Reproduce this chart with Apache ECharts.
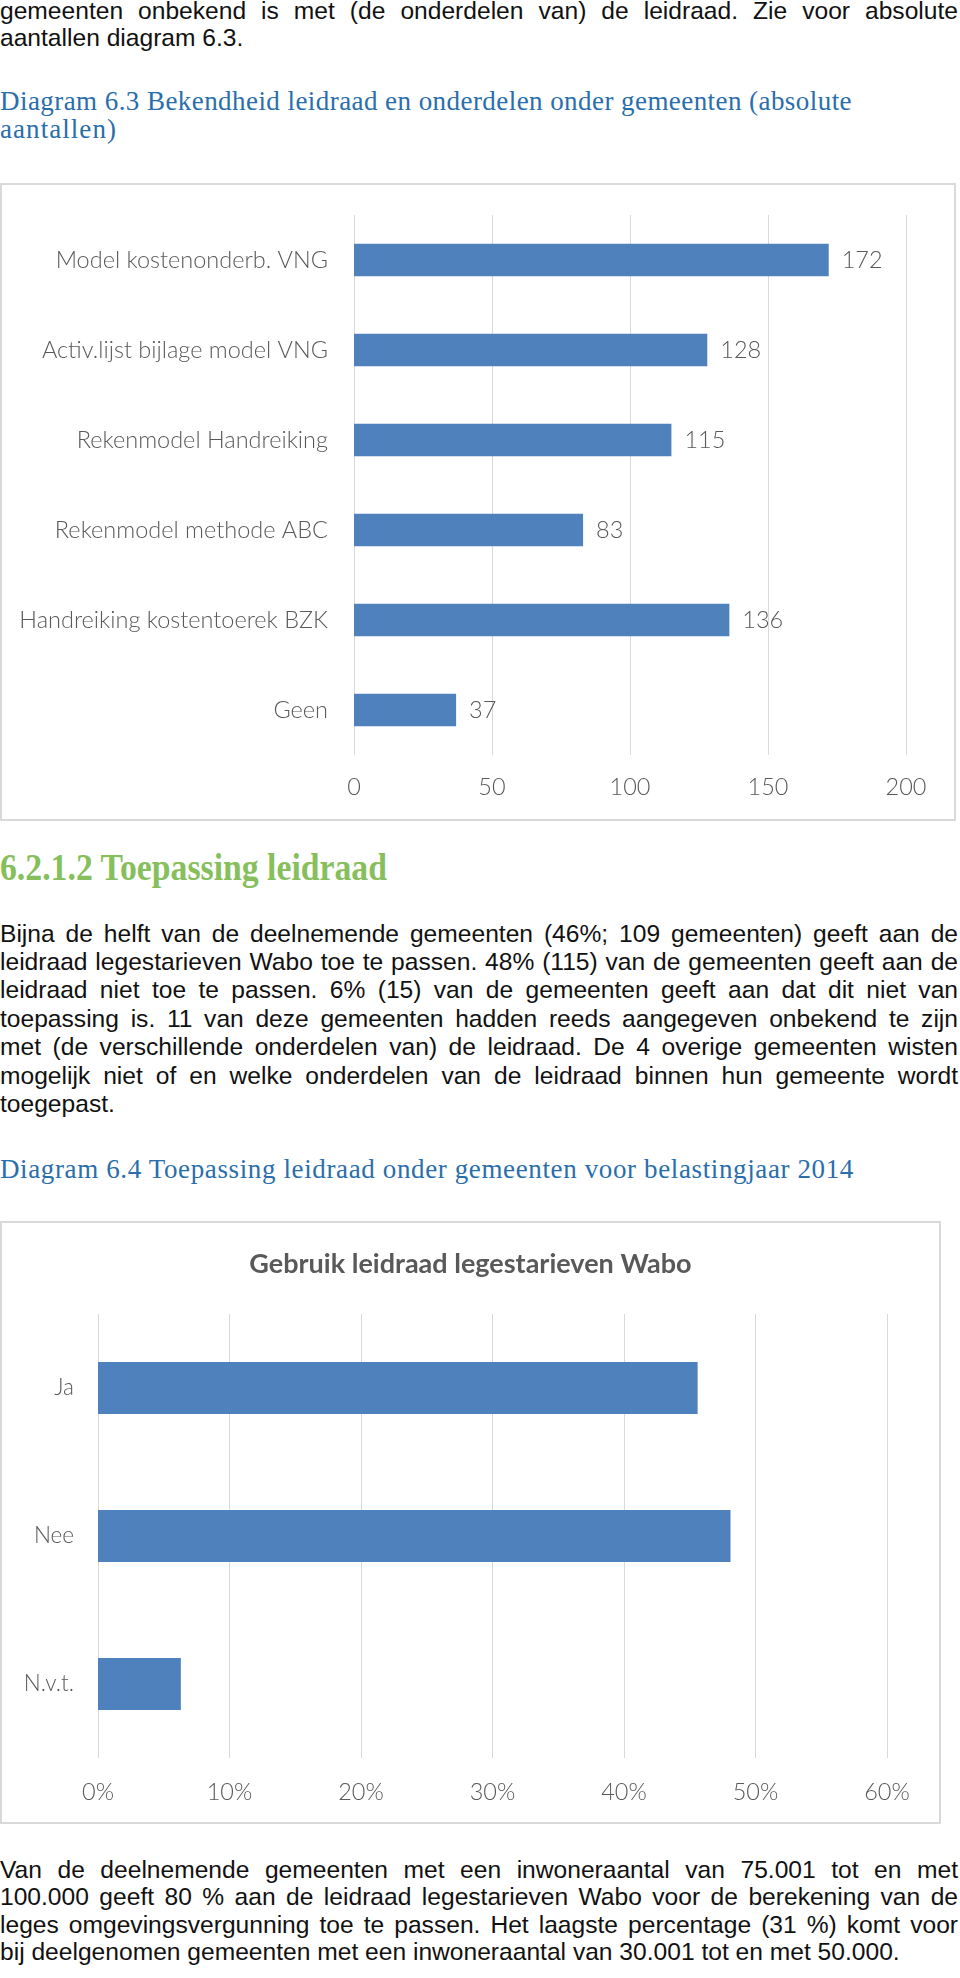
<!DOCTYPE html>
<html>
<head>
<meta charset="utf-8">
<script src="https://cdn.jsdelivr.net/npm/echarts@6/dist/echarts.min.js"></script>
<style>
  body { margin: 0; width: 960px; height: 1978px; position: relative; background: #fff; overflow: hidden; }
  .ln { position: absolute; left: 0; white-space: pre; line-height: 1; transform-origin: 0 50%; }
  .body { font-family: 'Liberation Sans', Arial, sans-serif; font-size: 24.6px; color: #111; }
  .blue { font-family: 'Liberation Serif', 'Times New Roman', serif; font-size: 27px; color: #2a6eab; }
  .green { font-family: 'Liberation Serif', 'Times New Roman', serif; font-size: 38px; font-weight: bold; color: #86bf5c; }
  .box { position: absolute; left: 0; border: 2px solid #d9d9d9; box-sizing: border-box; }
</style>
</head>
<body>
<div id="c1" class="box" style="top:183px;width:956px;height:638px"></div>
<div id="c2" class="box" style="top:1221px;width:941px;height:603px"></div>
<script>
// diagram 6.3 - absolute aantallen
const kennisLabels = ['Model kostenonderb. VNG', 'Activ.lijst bijlage model VNG', 'Rekenmodel Handreiking',
  'Rekenmodel methode ABC', 'Handreiking kostentoerek BZK', 'Geen'];
const kennisAantal = [172, 128, 115, 83, 136, 37];

// diagram 6.4 - gebruik leidraad (in %)
const gebruikLabels = ['Ja', 'Nee', 'N.v.t.'];
const gebruikPct = [45.6, 48.1, 6.3];

const axisGrey = '#595959';
const barBlue = '#4f81bd';
const chartFont = 'Lato, "Open Sans", sans-serif';

// text lines of the page: [text, y (x-height middle), class, fit, width]
const pageLines = [
  ['gemeenten onbekend is met (de onderdelen van) de leidraad. Zie voor absolute', 13, 'body', 'words', 958],
  ['aantallen diagram 6.3.', 40, 'body'],
  ['Diagram 6.3 Bekendheid leidraad en onderdelen onder gemeenten (absolute', 105, 'blue', 'letters', 852],
  ['aantallen)', 133, 'blue', 'letters', 117],
  ['6.2.1.2 Toepassing leidraad', 872, 'green', 'scale', 387],
  ['Bijna de helft van de deelnemende gemeenten (46%; 109 gemeenten) geeft aan de', 936, 'body', 'words', 958],
  ['leidraad legestarieven Wabo toe te passen. 48% (115) van de gemeenten geeft aan de', 964.4, 'body', 'words', 958],
  ['leidraad niet toe te passen. 6% (15) van de gemeenten geeft aan dat dit niet van', 992.8, 'body', 'words', 958],
  ['toepassing is. 11 van deze gemeenten hadden reeds aangegeven onbekend te zijn', 1021.2, 'body', 'words', 958],
  ['met (de verschillende onderdelen van) de leidraad. De 4 overige gemeenten wisten', 1049.6, 'body', 'words', 958],
  ['mogelijk niet of en welke onderdelen van de leidraad binnen hun gemeente wordt', 1078, 'body', 'words', 958],
  ['toegepast.', 1106.4, 'body'],
  ['Diagram 6.4 Toepassing leidraad onder gemeenten voor belastingjaar 2014', 1173, 'blue', 'letters', 854],
  ['Van de deelnemende gemeenten met een inwoneraantal van 75.001 tot en met', 1872, 'body', 'words', 958],
  ['100.000 geeft 80 % aan de leidraad legestarieven Wabo voor de berekening van de', 1899.5, 'body', 'words', 958],
  ['leges omgevingsvergunning toe te passen. Het laagste percentage (31 %) komt voor', 1927, 'body', 'words', 958],
  ['bij deelgenomen gemeenten met een inwoneraantal van 30.001 tot en met 50.000.', 1954.5, 'body']
];

const midOffset = { body: 0.587, blue: 0.612, green: 0.62 };

pageLines.forEach(([text, y, cls, fit, width]) => {
  const el = document.createElement('div');
  el.className = 'ln ' + cls;
  el.textContent = text;
  document.body.appendChild(el);
  const fs = parseFloat(getComputedStyle(el).fontSize);
  el.style.top = (y - midOffset[cls] * fs) + 'px';
  const w = el.getBoundingClientRect().width;
  if (fit === 'words') {
    const n = (text.match(/ /g) || []).length;
    el.style.wordSpacing = ((width - w) / n) + 'px';
  } else if (fit === 'letters') {
    el.style.letterSpacing = ((width - w) / text.length) + 'px';
  } else if (fit === 'scale') {
    el.style.transform = 'scaleX(' + (width / w) + ')';
  }
});

const labelStyle = { color: axisGrey, fontSize: 23.5, fontWeight: 300, fontFamily: chartFont };

const chart1 = echarts.init(document.getElementById('c1'));
chart1.setOption({
  animation: false,
  grid: { left: 352, right: 48, top: 30, bottom: 64 },
  xAxis: {
    type: 'value', min: 0, max: 200, interval: 50,
    axisLine: { show: false }, axisTick: { show: false },
    axisLabel: { ...labelStyle, margin: 20 },
    splitLine: { lineStyle: { color: '#d9d9d9', width: 1 } }
  },
  yAxis: {
    type: 'category', data: kennisLabels, inverse: true,
    axisLine: { show: false }, axisTick: { show: false },
    axisLabel: { ...labelStyle, margin: 26 }
  },
  series: [{
    type: 'bar', data: kennisAantal, barCategoryGap: '64%',
    itemStyle: { color: barBlue },
    label: { show: true, position: 'right', distance: 13, ...labelStyle }
  }]
});

const chart2 = echarts.init(document.getElementById('c2'));
chart2.setOption({
  animation: false,
  title: {
    text: 'Gebruik leidraad legestarieven Wabo', left: 'center', top: 23,
    textStyle: { color: axisGrey, fontSize: 27, fontWeight: 'bold', fontFamily: chartFont }
  },
  grid: { left: 96, right: 52, top: 91, bottom: 64 },
  xAxis: {
    type: 'value', min: 0, max: 60, interval: 10,
    axisLine: { show: false }, axisTick: { show: false },
    axisLabel: { ...labelStyle, margin: 22, formatter: '{value}%' },
    splitLine: { lineStyle: { color: '#d9d9d9', width: 1 } }
  },
  yAxis: {
    type: 'category', data: gebruikLabels, inverse: true,
    axisLine: { show: false }, axisTick: { show: false },
    axisLabel: { ...labelStyle, fontSize: 22.5, margin: 24 }
  },
  series: [{
    type: 'bar', data: gebruikPct, barCategoryGap: '65%',
    itemStyle: { color: barBlue }
  }]
});
</script>
</body>
</html>
